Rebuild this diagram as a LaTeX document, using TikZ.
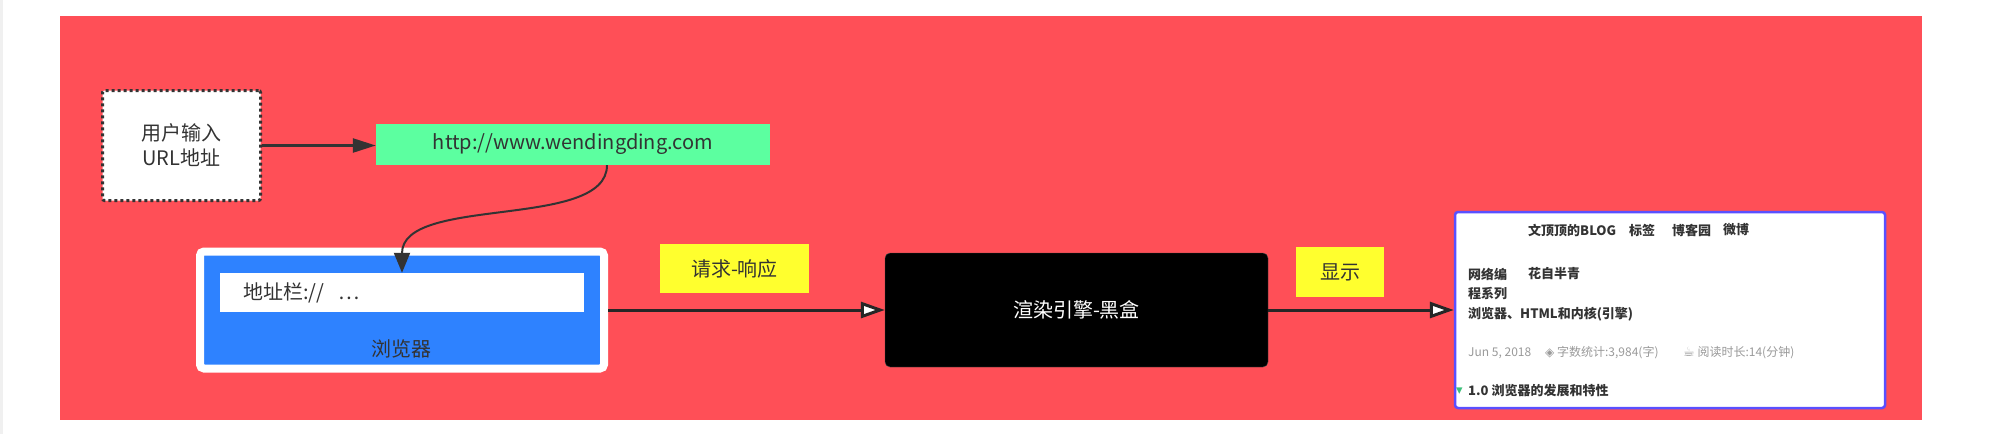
\documentclass[tikz,border=0pt]{standalone}
\usepackage{fontspec}
\setmainfont{Noto Sans CJK SC}
\newfontfamily\symfont{DejaVu Sans}
\usepackage{tikz}
\usetikzlibrary{arrows.meta,positioning}
\definecolor{bgred}{HTML}{FF4F57}
\definecolor{urlgreen}{HTML}{5CFFA0}
\definecolor{browserblue}{HTML}{2E82FF}
\definecolor{noteyellow}{HTML}{FFFF2E}
\definecolor{linegray}{HTML}{333333}
\definecolor{frameblue}{HTML}{5A50FF}
\definecolor{pagetext}{HTML}{333333}
\definecolor{metagray}{HTML}{9A9A9A}
\definecolor{tocgreen}{HTML}{3CC07A}
\tikzset{>=latex}

\begin{document}
\begin{tikzpicture}[x=1pt,y=-1pt,
  big/.style={font=\fontsize{20}{25}\selectfont,text=pagetext},
  dotbox/.style={big,draw=linegray,fill=white,line width=3pt,dash pattern=on 3pt off 3pt,rounded corners=2pt,align=center,minimum width=158pt,minimum height=110pt},
  note/.style={big,fill=noteyellow,inner sep=0pt},
  shottext/.style={anchor=west,inner sep=0pt,text=pagetext,font=\fontsize{13}{15}\selectfont\bfseries},
  meta/.style={anchor=west,inner sep=0pt,text=metagray,font=\fontsize{12}{14}\selectfont},
  link/.style={draw=linegray,line width=2.5pt,-{Triangle[length=23pt,width=14pt]}},
  curvelink/.style={draw=linegray,line width=2pt,-{Triangle[length=20pt,width=16pt]}},
  flow/.style={draw=black!85,line width=3pt,-{Triangle[open,fill=white,line width=3pt,length=24pt,width=16pt]}}]
\useasboundingbox (0,0) rectangle (1998,434);
\fill[white] (0,0) rectangle (1998,434);
\fill[black!6] (0,0) rectangle (3,434);
\fill[bgred] (60,16) rectangle (1922,420);

% input and url
\node[dotbox] (user) at (181.5,145.5) {用户输入\\URL地址};
\node[big,fill=urlgreen,minimum width=394pt,minimum height=41pt,inner sep=0pt] (url) at (573,144.5) {http://www.wendingding.com};

% browser
\node[draw=white,fill=browserblue,line width=8pt,rounded corners=4pt,minimum width=404pt,minimum height=117pt] (browser) at (402,310) {};
\node[fill=white,minimum width=364pt,minimum height=39pt,inner sep=0pt] (addr) at (402,292.5) {};
\node[big,anchor=west,inner sep=0pt] (addrtext) at (243,293) {地址栏://\hspace{14pt}…};
\node[big,inner sep=0pt] (browsertext) at (401,349) {浏览器};

% engine and page
\node[note,minimum width=149pt,minimum height=49pt] (req) at (734.5,268.5) {请求-响应};
\node[big,text=white,fill=black,draw=black!70,rounded corners=5pt,minimum width=383pt,minimum height=114pt] (engine) at (1076.5,310) {渲染引擎-黑盒};
\node[note,minimum width=88pt,minimum height=50pt] (show) at (1340,272) {显示};
\node[draw=frameblue,fill=white,line width=2.5pt,rounded corners=3pt,minimum width=430pt,minimum height=196pt] (page) at (1670,310) {};

% page content
\node[shottext] (navblog) at (1528,230) {文顶顶的BLOG};
\node[shottext] (navtag) at (1629,230) {标签};
\node[shottext] (navsite) at (1672,230) {博客园};
\node[shottext] (navweibo) at (1723,230) {微博};
\node[shottext] (title1) at (1468,274) {网络编};
\node[shottext] (author) at (1528,274) {花自半青};
\node[shottext] (title2) at (1468,294) {程系列};
\node[shottext] (title3) at (1468,314) {浏览器、HTML和内核(引擎)};
\node[meta] (date) at (1468,353) {Jun 5, 2018};
\node[meta] (words) at (1545,353) {{\symfont ◈} 字数统计:3,984(字)};
\node[meta] (readtime) at (1683,353) {{\symfont\fontsize{13}{14}\selectfont ☕} 阅读时长:14(分钟)};
\node[anchor=west,inner sep=0pt,text=tocgreen,font=\fontsize{13}{14}\selectfont\symfont] (tocmark) at (1456,391) {▾};
\node[shottext] (toc) at (1468,391) {1.0 浏览器的发展和特性};

% connectors
\draw[link] (user.east) -- (user.east -| url.west);
\draw[curvelink] ([xshift=34pt]url.south) .. controls +(0,65) and +(0,-78) .. (addr.north);
\draw[flow] (browser.east) -- (engine.west);
\draw[flow] (engine.east) -- (page.west);
\end{tikzpicture}
\end{document}
